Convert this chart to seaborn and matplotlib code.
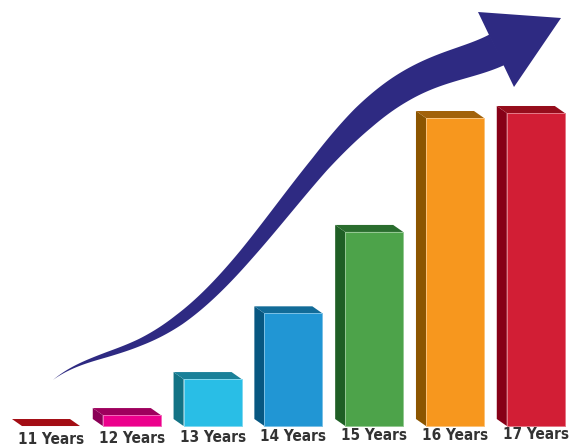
import numpy as np
import pandas as pd
import matplotlib
matplotlib.use("Agg")
import matplotlib.pyplot as plt
import seaborn as sns
from matplotlib.patches import Polygon
from matplotlib.colors import to_rgb

# Bar categories and heights (percent of the tallest bar)
ages = ["11 Years", "12 Years", "13 Years", "14 Years", "15 Years", "16 Years", "17 Years"]
values = [0.0, 3.5, 15.0, 36.0, 62.0, 98.4, 100.0]

# Face colours for the pseudo-3D boxes
front_colors = ["#a30d14", "#ec008c", "#29bee6", "#2196d4", "#4da34a", "#f7971e", "#d21e35"]
top_colors = ["#a30d14", "#9e005d", "#1a8199", "#126b98", "#2a6d2e", "#a2620a", "#960d1c"]
side_colors = ["#8a0a10", "#8a0056", "#137385", "#075781", "#1f5f25", "#8c5500", "#870017"]

sns.set_theme(style="white")
plt.rcParams["font.family"] = ["DejaVu Sans"]

fig = plt.figure(figsize=(5.72, 4.47), dpi=100)
ax = fig.add_axes([0, 0, 1, 1])

df = pd.DataFrame({"age": ages, "value": values})
sns.barplot(data=df, x="age", y="value", hue="age", palette=front_colors,
            width=0.718, saturation=1, linewidth=0, legend=False, ax=ax, zorder=3)

ax.set_xlim(-0.631, 6.448)
ax.set_ylim(-6.7, 136.1)
ax.set_axis_off()

# depth of the boxes (back face shifted up and to the left)
dx, dy = -0.124, 2.24
bars = sorted(ax.patches, key=lambda p: p.get_x())
for i, p in enumerate(bars):
    x0, w, h = p.get_x(), p.get_width(), p.get_height()
    # faint highlight along the front face edges
    if h > 0:
        tint = tuple(0.6 * np.array(to_rgb(front_colors[i])) + 0.4)
        p.set_edgecolor(tint)
        p.set_linewidth(0.7)
    side = [(x0, 0), (x0, h), (x0 + dx, h + dy), (x0 + dx, dy)]
    top = [(x0, h), (x0 + w, h), (x0 + w + dx, h + dy), (x0 + dx, h + dy)]
    ax.add_patch(Polygon(side, closed=True, facecolor=side_colors[i], edgecolor="none", zorder=2))
    ax.add_patch(Polygon(top, closed=True, facecolor=top_colors[i], edgecolor="none", zorder=2))
    ax.text(x0 + w / 2, -4.3 + 0.28 * i, ages[i], ha="center", va="center", fontsize=11,
            fontweight="bold", fontstretch="condensed", color="#333333")

# Growth arrow drawn on an overlay in pixel coordinates
ov = fig.add_axes([0, 0, 1, 1], facecolor="none")
ov.set_xlim(0, 572)
ov.set_ylim(447, 0)
ov.set_axis_off()

# centre line of the arrow shaft and its thickness along the way
guide_x = [53, 107, 140, 179, 213, 246, 275, 298, 321, 355, 388, 421, 455, 497]
guide_y = [379, 358, 342, 316, 287, 258, 225, 193, 159, 122, 97, 80, 66, 49]
thick_x = [53, 107, 140, 179, 246, 290, 320, 363, 400, 447, 497]
thick_w = [0, 5, 7, 11, 14, 17, 19, 25, 28, 31, 34]

coef = np.polyfit(guide_x, guide_y, 5)
xs = np.linspace(guide_x[0], guide_x[-1], 300)
ys = np.polyval(coef, xs)
slope = np.polyval(np.polyder(coef), xs)
norm = np.hypot(1.0, slope)
nx, ny = -slope / norm, 1.0 / norm   # unit normal pointing down-right
half = np.interp(xs, thick_x, thick_w) / 2.0
upper = np.column_stack([xs - nx * half, ys - ny * half])
lower = np.column_stack([xs + nx * half, ys + ny * half])
shaft = np.vstack([upper, lower[::-1]])
ov.add_patch(Polygon(shaft, closed=True, facecolor="#2e2a82", edgecolor="none"))

head = [(478, 12), (561, 18), (514, 87)]
ov.add_patch(Polygon(head, closed=True, facecolor="#2e2a82", edgecolor="none"))

fig.savefig("out.png", dpi=100)
